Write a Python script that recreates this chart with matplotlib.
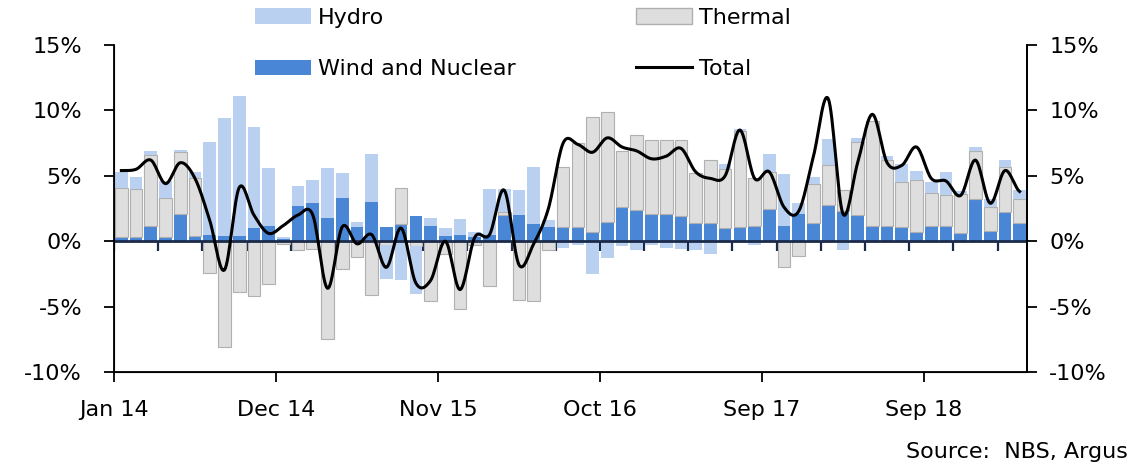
import numpy as np
import matplotlib.pyplot as plt
from matplotlib.patches import Patch
from matplotlib.lines import Line2D

# contributions to power generation growth, % (monthly Jan 14 on)
wind = [0.3, 0.3, 1.2, 0.3, 2.1, 0.4, 0.5, 0.4, 0.4, 1.0,
        1.2, 0.2, 2.7, 2.9, 1.8, 3.3, 1.1, 3.0, 1.1, 1.3,
        1.9, 1.2, 0.4, 0.5, 0.3, 0.5, 2.0, 2.0, 1.3, 1.1,
        1.1, 1.1, 0.7, 1.5, 2.6, 2.4, 2.1, 2.1, 1.9, 1.4,
        1.4, 1.0, 1.1, 1.2, 2.5, 1.2, 2.1, 1.4, 2.8, 2.3,
        2.0, 1.2, 1.2, 1.1, 0.7, 1.2, 1.2, 0.6, 3.2, 0.8,
        2.2, 1.4]
thermal = [3.8, 3.7, 5.4, 3.0, 4.7, 4.4, -2.4, -8.1, -3.9, -4.2,
           -3.3, -0.2, -0.7, -0.6, -7.5, -2.1, -1.2, -4.1, -0.3, 2.8,
           -0.4, -4.6, -1.0, -5.2, -0.3, -3.4, 0.2, -4.5, -4.6, -0.7,
           4.6, 6.4, 8.8, 8.4, 4.3, 5.7, 5.6, 5.6, 5.8, 3.8,
           4.8, 4.5, 7.3, 3.6, 2.8, -2.0, -1.1, 3.0, 3.0, 1.6,
           5.6, 8.0, 5.0, 3.4, 4.0, 2.5, 2.3, 3.0, 3.7, 1.8,
           3.5, 1.8]
hydro = [1.2, 0.9, 0.3, 1.3, 0.2, 0.5, 7.1, 9.0, 10.7, 7.7,
         4.4, 0.1, 1.5, 1.8, 3.8, 1.9, 0.4, 3.7, -2.6, -3.0,
         -3.6, 0.6, 0.6, 1.2, 0.4, 3.5, 1.8, 1.9, 4.4, 0.5,
         -0.5, -0.3, -2.5, -1.3, -0.4, -0.7, -0.3, -0.5, -0.6, -0.7,
         -1.0, 0.4, 0.2, -0.3, 1.4, 3.9, 0.8, 0.5, 2.0, -0.7,
         0.3, 0.0, 0.3, 1.4, 0.7, 0.8, 1.8, 0.2, 0.3, 0.6,
         0.5, 0.7]
total = [5.4, 5.5, 6.2, 4.4, 6.0, 4.8, 1.6, -2.2, 4.1, 2.0,
         0.6, 1.2, 2.0, 2.0, -3.6, 1.1, -0.2, 0.5, -2.0, 1.0,
         -3.2, -3.0, 0.0, -3.7, 0.3, 0.5, 3.9, -1.8, -0.2, 2.5,
         7.5, 7.4, 6.8, 7.9, 7.2, 6.9, 6.3, 6.5, 7.1, 5.3,
         4.8, 5.0, 8.5, 4.8, 5.3, 2.6, 2.3, 6.5, 10.9, 2.1,
         6.0, 9.7, 6.0, 5.8, 7.2, 4.8, 4.6, 3.5, 6.2, 2.9,
         5.4, 3.8]
tick_labels = ["Jan 14", "Dec 14", "Nov 15", "Oct 16", "Sep 17", "Sep 18"]
label_step = 11
y_ticks = [-10, -5, 0, 5, 10, 15]

c_hydro = "#b9d0f0"
c_thermal = "#dedede"
c_thermal_edge = "#b0b0b0"
c_wind = "#4a86d6"
c_zero = "#1b2a4a"


def smooth(y, n=16):
    # Catmull-Rom curve through the points, close to Excel's smoothed line
    y = np.asarray(y, float)
    p = np.concatenate([[y[0]], y, [y[-1]]])
    t = np.linspace(0, 1, n, endpoint=False)
    xs, ys = [], []
    for i in range(len(y) - 1):
        p0, p1, p2, p3 = p[i], p[i + 1], p[i + 2], p[i + 3]
        seg = 0.5 * (2 * p1 + (p2 - p0) * t + (2 * p0 - 5 * p1 + 4 * p2 - p3) * t ** 2
                     + (3 * p1 - p0 - 3 * p2 + p3) * t ** 3)
        xs.append(i + t)
        ys.append(seg)
    xs.append([len(y) - 1])
    ys.append([y[-1]])
    return np.concatenate(xs), np.concatenate(ys)


plt.rcParams["font.family"] = "DejaVu Sans"
fs = 16

fig = plt.figure(figsize=(11.39, 4.67), dpi=100)
ax = fig.add_axes([114 / 1139, 1 - 372 / 467, (1027 - 114) / 1139, (372 - 45) / 467])

n = len(total)
x = np.arange(n)
pos_base = np.zeros(n)
neg_base = np.zeros(n)
for vals, col, edge in [(wind, c_wind, "none"), (thermal, c_thermal, c_thermal_edge),
                        (hydro, c_hydro, "none")]:
    v = np.array(vals)
    base = np.where(v >= 0, pos_base, neg_base)
    ax.bar(x, v, bottom=base, width=0.86, color=col, edgecolor=edge,
           linewidth=0.8, zorder=2)
    pos_base += np.clip(v, 0, None)
    neg_base += np.clip(v, None, 0)

# zero axis with its small tick marks
ax.vlines(np.arange(-0.5, n, 3), -0.75, 0, color=c_zero, lw=1.6, zorder=1)
ax.axhline(0, color=c_zero, lw=2.0, zorder=3)

sx, sy = smooth(total)
ax.plot(sx, sy, color="black", lw=2.2, zorder=4)

ax.set_xlim(-0.5, n - 0.5)
ax.set_ylim(-10, 15)
ax.set_xticks(np.arange(0, n, label_step) - 0.5)
ax.set_xticklabels(tick_labels, fontsize=fs)
ax.set_yticks(y_ticks)
ax.set_yticklabels([f"{v}%" for v in y_ticks], fontsize=fs)
ax.tick_params(axis="x", length=7, width=1.3, pad=13)
ax.tick_params(axis="y", length=7, width=1.3, pad=16)
ax.spines["top"].set_visible(False)
for s in ["left", "right", "bottom"]:
    ax.spines[s].set_linewidth(1.3)

ax2 = ax.twinx()
ax2.set_ylim(-10, 15)
ax2.set_yticks(y_ticks)
ax2.set_yticklabels([f"{v}%" for v in y_ticks], fontsize=fs)
ax2.tick_params(axis="y", length=7, width=1.3, pad=9)
ax2.spines["top"].set_visible(False)
ax2.spines["right"].set_linewidth(1.3)

handles = [Patch(facecolor=c_hydro, edgecolor="none"),
           Patch(facecolor=c_wind, edgecolor="none"),
           Patch(facecolor=c_thermal, edgecolor=c_thermal_edge),
           Line2D([], [], color="black", lw=2.2)]
fig.legend(handles, ["Hydro", "Wind and Nuclear", "Thermal", "Total"], ncol=2,
           loc="upper left", bbox_to_anchor=(255 / 1139, 1 - 8 / 467),
           frameon=False, fontsize=fs, handlelength=2.5, handleheight=0.7,
           handletextpad=0.35, columnspacing=5.4, labelspacing=1.4,
           borderpad=0, borderaxespad=0)

fig.text(1128 / 1139, 1 - 458 / 467, "Source:  NBS, Argus", ha="right",
         va="baseline", fontsize=fs)

fig.savefig("out.png", dpi=100)
